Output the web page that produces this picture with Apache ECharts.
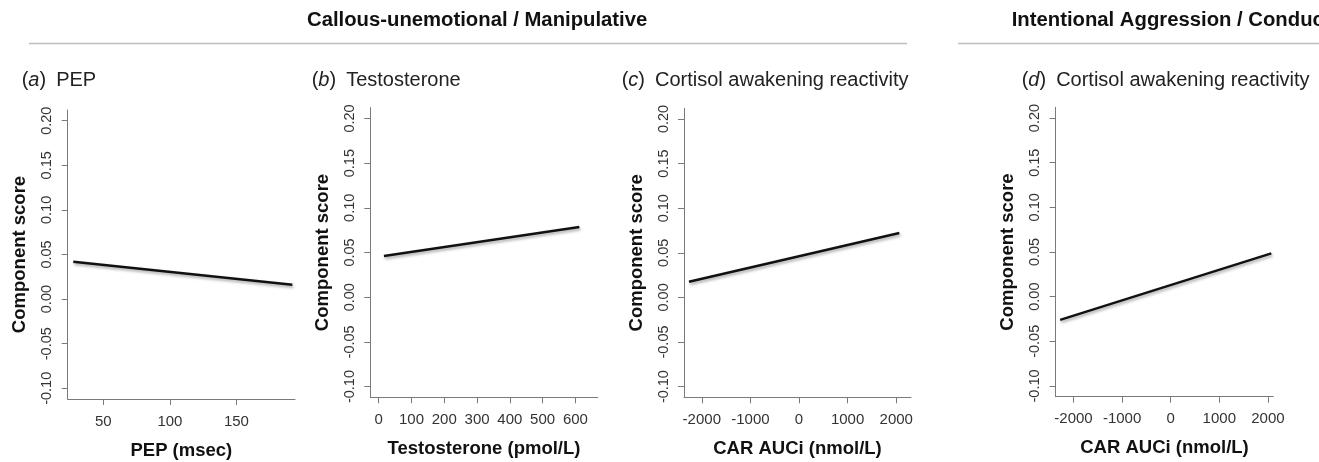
<!DOCTYPE html>
<html>
<head>
<meta charset="utf-8">
<script src="https://cdn.jsdelivr.net/npm/echarts@6/dist/echarts.min.js"></script>
<style>
  html, body { margin: 0; padding: 0; background: #fff; }
  #chart { width: 1319px; height: 462px; }
</style>
</head>
<body>
<div id="chart"></div>
<script>
// fitted lines (start and end points)
const pepX = [27.4, 192];
const pepY = [0.042, 0.016];
const testoX = [16, 612];
const testoY = [0.046, 0.0786];
const carCuX = [-2263, 2064];
const carCuY = [0.0176, 0.0722];
const carIaX = [-2274, 2070];
const carIaY = [-0.026, 0.0484];

// tick labels
const yTicks = [-0.10, -0.05, 0.00, 0.05, 0.10, 0.15, 0.20];
const pepTicks = [50, 100, 150];
const testoTicks = [0, 100, 200, 300, 400, 500, 600];
const carTicks = [-2000, -1000, 0, 1000, 2000];

const headers = ['Callous-unemotional / Manipulative', 'Intentional Aggression / Conduct'];
const panelLetters = ['a', 'b', 'c', 'd'];
const panelNames = ['PEP', 'Testosterone', 'Cortisol awakening reactivity', 'Cortisol awakening reactivity'];
const xNames = ['PEP (msec)', 'Testosterone (pmol/L)', 'CAR AUCi (nmol/L)', 'CAR AUCi (nmol/L)'];
const yName = 'Component score';

const FONT = '"Liberation Sans", Arial, sans-serif';

function pairs(xs, ys) {
  return xs.map((x, i) => [x, ys[i]]);
}

const panels = [
  { grid: { left: 67.7, top: 110, width: 227.3, height: 289 }, xMin: 23.2, xMax: 194, ticks: pepTicks, data: pairs(pepX, pepY), titleX: 21.7 },
  { grid: { left: 370.3, top: 107.7, width: 227.4, height: 289.6 }, xMin: -25.6, xMax: 668, ticks: testoTicks, data: pairs(testoX, testoY), titleX: 311.7 },
  { grid: { left: 684, top: 108.3, width: 227, height: 289 }, xMin: -2366, xMax: 2304, ticks: carTicks, data: pairs(carCuX, carCuY), titleX: 621.7 },
  { grid: { left: 1055.7, top: 107.3, width: 217.6, height: 289.4 }, xMin: -2366, xMax: 2111, ticks: carTicks, data: pairs(carIaX, carIaY), titleX: 1021.7 }
];

const axisColor = '#7a7a7a';

const grids = [], xAxes = [], yAxes = [], series = [], titles = [];

panels.forEach((p, i) => {
  grids.push(Object.assign({ outerBoundsMode: 'none', containLabel: false }, p.grid));
  xAxes.push({
    type: 'value', gridIndex: i, min: p.xMin, max: p.xMax,
    name: xNames[i], nameLocation: 'middle', nameGap: 42,
    nameTextStyle: { fontFamily: FONT, fontWeight: 'bold', fontSize: 18.5, color: '#111' },
    axisLine: { show: true, onZero: false, lineStyle: { color: axisColor, width: 1 } },
    axisTick: { show: true, length: 6, customValues: p.ticks, lineStyle: { color: axisColor } },
    axisLabel: {
      customValues: p.ticks, margin: 15, fontFamily: FONT, fontSize: 15, color: '#333',
      formatter: v => String(v)
    },
    splitLine: { show: false }
  });
  yAxes.push({
    type: 'value', gridIndex: i, min: -0.112, max: 0.212,
    name: yName, nameLocation: 'middle', nameGap: 38,
    nameTextStyle: { fontFamily: FONT, fontWeight: 'bold', fontSize: 18.5, color: '#111' },
    axisLine: { show: true, onZero: false, lineStyle: { color: axisColor, width: 1 } },
    axisTick: { show: true, length: 6, customValues: yTicks, lineStyle: { color: axisColor } },
    axisLabel: {
      customValues: yTicks, rotate: 90, margin: 13, fontFamily: FONT, fontSize: 14.5, color: '#333',
      formatter: v => v.toFixed(2)
    },
    splitLine: { show: false }
  });
  series.push({
    type: 'line', xAxisIndex: i, yAxisIndex: i, data: p.data,
    showSymbol: false, silent: true, animation: false,
    lineStyle: {
      color: '#111', width: 2.5,
      shadowColor: 'rgba(0,0,0,0.35)', shadowBlur: 3, shadowOffsetX: 1, shadowOffsetY: 2
    }
  });
  titles.push({
    left: p.titleX, top: 70, padding: 0,
    text: '(' + '{i|' + panelLetters[i] + '}' + ')\u2002' + panelNames[i],
    textStyle: {
      fontFamily: FONT, fontSize: 20, fontWeight: 'normal', color: '#222',
      rich: { i: { fontFamily: FONT, fontSize: 20, fontStyle: 'italic', color: '#222' } }
    }
  });
});

titles.push({
  left: 307, top: 10, padding: 0, text: headers[0],
  textStyle: { fontFamily: FONT, fontSize: 20.3, fontWeight: 'bold', color: '#111' }
});
titles.push({
  left: 1011.7, top: 10, padding: 0, text: headers[1],
  textStyle: { fontFamily: FONT, fontSize: 20.3, fontWeight: 'bold', color: '#111' }
});

const chart = echarts.init(document.getElementById('chart'), null, { renderer: 'canvas' });
chart.setOption({
  animation: false,
  backgroundColor: '#fff',
  title: titles,
  grid: grids,
  xAxis: xAxes,
  yAxis: yAxes,
  series: series,
  graphic: [
    { type: 'line', shape: { x1: 29, y1: 43.5, x2: 907, y2: 43.5 }, style: { stroke: '#bdbdbd', lineWidth: 1.5 } },
    { type: 'line', shape: { x1: 958, y1: 43.5, x2: 1319, y2: 43.5 }, style: { stroke: '#bdbdbd', lineWidth: 1.5 } }
  ]
});
</script>
</body>
</html>
